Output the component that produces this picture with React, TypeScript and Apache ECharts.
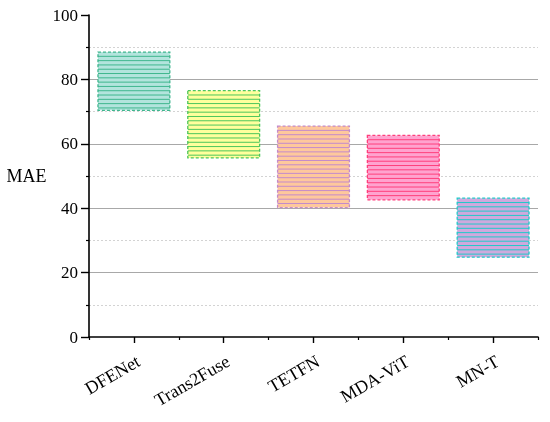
import React, { useEffect, useRef } from "react";
import * as echarts from "echarts";

const categories = ["DFENet", "Trans2Fuse", "TETFN", "MDA-ViT", "MN-T"];
const lowValues = [70.4, 55.6, 40.2, 42.6, 24.8];
const highValues = [88.5, 76.5, 65.5, 62.6, 43.1];
const fillColors = ["#b3e4dd", "#ffff9c", "#fec89c", "#ffa3cf", "#cfa9dd"];
const lineColors = ["#3fb68e", "#4cc65c", "#c48acb", "#ff3f7c", "#22c9c9"];
const yTicks = [0, 20, 40, 60, 80, 100];

const FONT = "'Liberation Serif', 'Times New Roman', serif";

export default function App() {
  const ref = useRef<HTMLDivElement>(null);
  useEffect(() => {
    if (!ref.current) return;
    const chart = echarts.init(ref.current, undefined, { renderer: "svg" });
    const data = categories.map((c, i) => [i, lowValues[i], highValues[i]]);
    chart.setOption({
      animation: false,
      grid: { left: 89, right: 12, top: 15, bottom: 85 },
      xAxis: [
        {
          type: "category",
          data: categories,
          axisLine: { show: true, lineStyle: { color: "#000", width: 1.6 } },
          axisTick: { show: true, alignWithLabel: true, length: 6, lineStyle: { color: "#000", width: 1.4 } },
          axisLabel: {
            interval: 0,
            rotate: 30,
            fontFamily: FONT,
            fontSize: 18,
            color: "#000",
            margin: 15,
            verticalAlign: "top",
          },
          splitLine: { show: false },
        },
        {
          type: "category",
          data: categories,
          position: "bottom",
          axisLine: { show: false },
          axisTick: { show: true, interval: 0, length: 3, lineStyle: { color: "#000", width: 1.2 } },
          axisLabel: { show: false },
          splitLine: { show: false },
        },
      ],
      yAxis: {
        type: "value",
        min: yTicks[0],
        max: yTicks[yTicks.length - 1],
        interval: 20,
        name: "MAE",
        nameLocation: "middle",
        nameRotate: 0,
        nameGap: 42,
        nameTextStyle: { fontFamily: FONT, fontSize: 18, color: "#000" },
        axisLine: { show: true, lineStyle: { color: "#000", width: 1.6 } },
        axisTick: { show: true, length: 8, lineStyle: { color: "#000", width: 1.4 } },
        minorTick: { show: true, splitNumber: 2, length: 3, lineStyle: { color: "#000", width: 1.2 } },
        axisLabel: { fontFamily: FONT, fontSize: 17, color: "#000", margin: 11 },
        splitLine: { show: true, showMinLine: false, showMaxLine: false, lineStyle: { color: "#a8a8a8", width: 1 } },
        minorSplitLine: { show: true, lineStyle: { color: "#c8c8c8", width: 0.8, type: [2, 2] } },
      },
      series: [
        {
          type: "custom",
          xAxisIndex: 0,
          data,
          encode: { x: 0, y: [1, 2] },
          renderItem: (params: any, api: any) => {
            const idx = api.value(0);
            const lo = api.coord([idx, api.value(1)]);
            const hi = api.coord([idx, api.value(2)]);
            const w = api.size([1, 0])[0] * 0.8;
            const x = lo[0] - w / 2;
            const top = hi[1];
            const bottom = lo[1];
            const i = params.dataIndex;
            const children: any[] = [
              {
                type: "rect",
                shape: { x, y: top, width: w, height: bottom - top },
                style: { fill: fillColors[i], stroke: null },
              },
            ];
            const step = 4.3;
            for (let yy = top + step; yy < bottom - 1; yy += step) {
              children.push({
                type: "line",
                shape: { x1: x, y1: yy, x2: x + w, y2: yy },
                style: { stroke: lineColors[i], lineWidth: 1 },
              });
            }
            children.push({
              type: "rect",
              shape: { x, y: top, width: w, height: bottom - top },
              style: { fill: "none", stroke: lineColors[i], lineWidth: 1.3, lineDash: [3, 2] },
            });
            return { type: "group", children };
          },
        },
      ],
    });
    return () => chart.dispose();
  }, []);
  return <div ref={ref} style={{ position: "fixed", left: 0, top: 0, width: 550, height: 422 }} />;
}
